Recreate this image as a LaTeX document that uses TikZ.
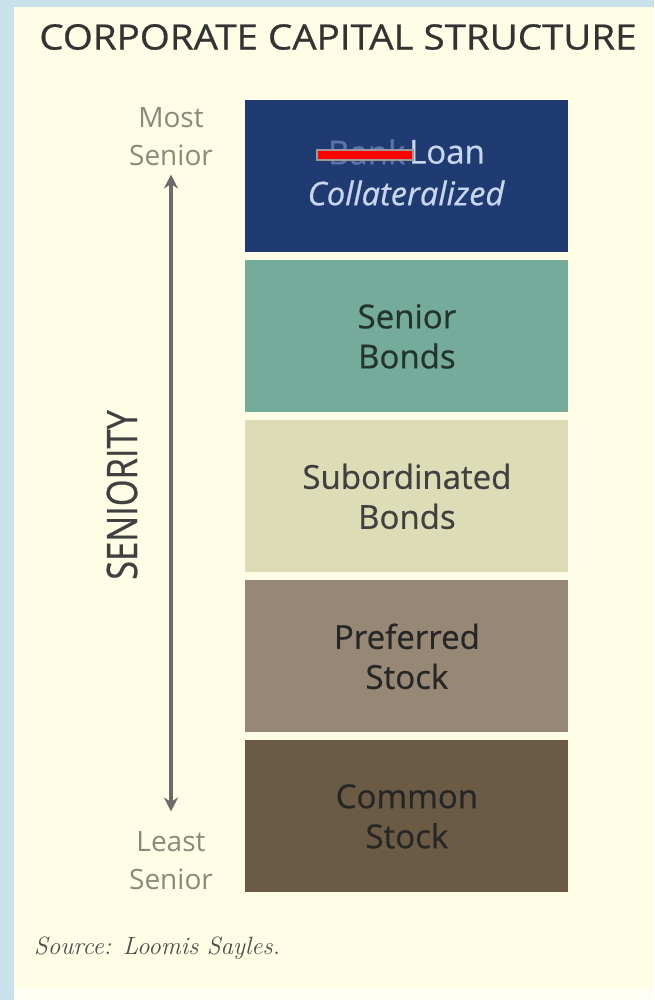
\documentclass[tikz,border=0pt]{standalone}
\usepackage{fontspec}
\setsansfont{Open Sans}
\newfontfamily\heavysans[FakeBold=0.6]{Open Sans}
\usetikzlibrary{arrows.meta, positioning}
\definecolor{bgblue}{HTML}{C8E1EA}
\definecolor{cream}{HTML}{FFFDE6}
\definecolor{navy}{HTML}{1F3B71}
\definecolor{teal}{HTML}{74AB9B}
\definecolor{pale}{HTML}{DCDCB6}
\definecolor{taupe}{HTML}{968874}
\definecolor{umber}{HTML}{6B5B45}
\definecolor{loanblue}{HTML}{C8D7EF}
\definecolor{bankblue}{HTML}{5C74A8}
\definecolor{sidegray}{HTML}{8A8A7C}
\tikzset{
	layer/.style={minimum width=161.5pt, minimum height=76pt, inner sep=0pt, anchor=north west,
		align=center, font=\heavysans\fontsize{16.5}{20}\selectfont},
	side/.style={align=center, inner sep=1pt, text=sidegray, font=\sffamily\fontsize{14}{19}\selectfont},
}
\begin{document}
\begin{tikzpicture}[x=0.5pt, y=-0.5pt]
	\useasboundingbox (0,0) rectangle (654,1000);
	\fill[bgblue] (0,0) rectangle (654,1000);
	\fill[cream] (14,7) rectangle (654,988);
	\fill[white!60!cream] (14,988) rectangle (654,1000);
	\node[font=\heavysans\fontsize{17.5}{20}\selectfont, text=black!80, xscale=1.1] (title) at (338,37) {CORPORATE CAPITAL STRUCTURE};

	% the five layers, most senior on top
	\node[layer, fill=navy] (loanbox) at (245,100) {};
	\node[layer, fill=teal, text=teal!30!black] (senior) at (245,260) {Senior\\Bonds};
	\node[layer, fill=pale, text=black!75] (subord) at (245,420) {Subordinated\\Bonds};
	\node[layer, fill=taupe, text=black!85] (pref) at (245,580) {Preferred\\Stock};
	\node[layer, fill=umber, text=black!85] (common) at (245,740) {Common\\Stock};

	\node[font=\heavysans\fontsize{16.5}{18}\selectfont, text=loanblue, inner sep=0pt] (loan) at (447,152) {Loan};
	\node[font=\heavysans\fontsize{16.5}{18}\selectfont, text=bankblue, inner sep=0pt, left=1.5pt of loan] (bank) {Bank};
	\node[fill=red, draw=gray!80, line width=0.8pt, minimum width=48pt, minimum height=5pt, inner sep=0pt] (strike) at ([xshift=-1pt, yshift=-1.5pt]bank.center) {};
	\node[font=\heavysans\itshape\fontsize{16.3}{18}\selectfont, text=loanblue] (coll) at (406,193) {Collateralized};

	% seniority axis
	\node[side] (most) at (171,137) {Most\\Senior};
	\node[side] (least) at (171,861) {Least\\Senior};
	\draw[arrows={Stealth[length=7pt,width=7pt]-Stealth[length=7pt,width=7pt]}, line width=1.8pt, draw=black!58,
		shorten <=3pt, shorten >=9pt] (most.south) -- (least.north);
	\node[rotate=90, font=\heavysans\fontsize{21}{22}\selectfont, text=black!75] (axis) at (122,495) {\scalebox{0.82}[1]{SENIORITY}};

	\node[font=\itshape\fontsize{12.5}{14}\selectfont, text=black!70, anchor=west] (source) at (27,948) {Source: Loomis Sayles.};
\end{tikzpicture}
\end{document}
